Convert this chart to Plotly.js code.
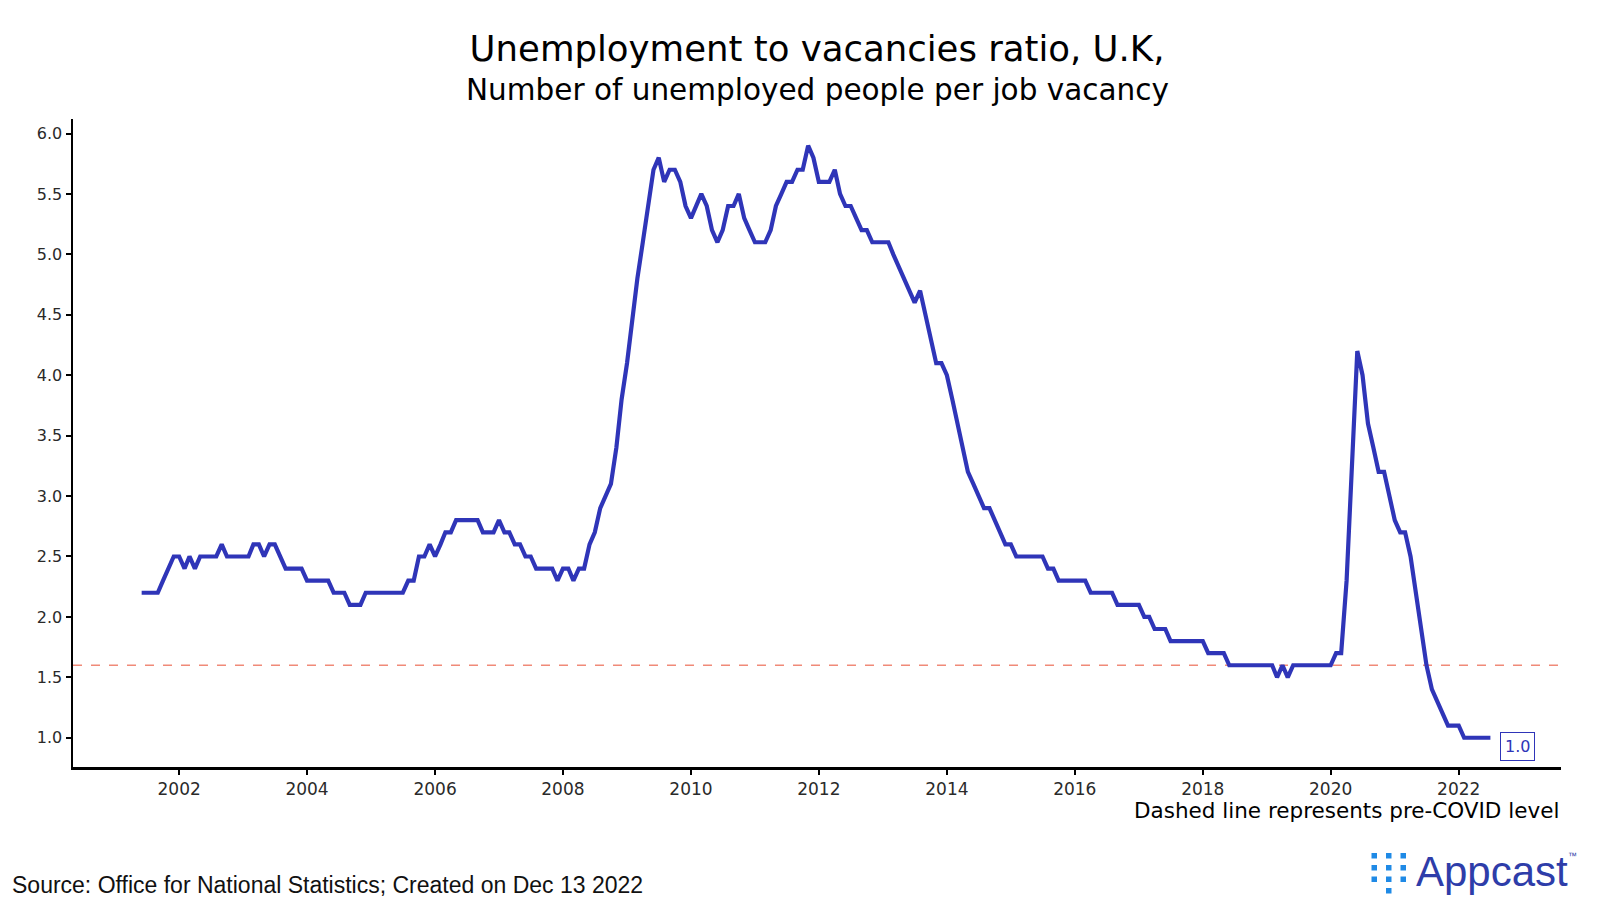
<!DOCTYPE html>
<html>
<head>
<meta charset="utf-8">
<script src="https://cdn.plot.ly/plotly-3.0.1.min.js"></script>
<style>
  html, body { margin: 0; padding: 0; background: #fff; }
  #graph { width: 1600px; height: 909px; }
</style>
</head>
<body>
<div id="graph"></div>
<script>
// monthly ratio, Jun 2001 .. Jul 2022
const startYear = 2001
const startMonth = 6
const ratio = [
  2.2, 2.2, 2.2, 2.2, 2.3, 2.4, 2.5,                          // 2001 Jun-Dec
  2.5, 2.4, 2.5, 2.4, 2.5, 2.5, 2.5, 2.5, 2.6, 2.5, 2.5, 2.5, // 2002
  2.5, 2.5, 2.6, 2.6, 2.5, 2.6, 2.6, 2.5, 2.4, 2.4, 2.4, 2.4, // 2003
  2.3, 2.3, 2.3, 2.3, 2.3, 2.2, 2.2, 2.2, 2.1, 2.1, 2.1, 2.2, // 2004
  2.2, 2.2, 2.2, 2.2, 2.2, 2.2, 2.2, 2.3, 2.3, 2.5, 2.5, 2.6, // 2005
  2.5, 2.6, 2.7, 2.7, 2.8, 2.8, 2.8, 2.8, 2.8, 2.7, 2.7, 2.7, // 2006
  2.8, 2.7, 2.7, 2.6, 2.6, 2.5, 2.5, 2.4, 2.4, 2.4, 2.4, 2.3, // 2007
  2.4, 2.4, 2.3, 2.4, 2.4, 2.6, 2.7, 2.9, 3.0, 3.1, 3.4, 3.8, // 2008
  4.1, 4.5, 4.8, 5.1, 5.4, 5.7, 5.8, 5.6, 5.7, 5.7, 5.6, 5.4, // 2009
  5.3, 5.4, 5.5, 5.4, 5.2, 5.1, 5.2, 5.4, 5.4, 5.5, 5.3, 5.2, // 2010
  5.1, 5.1, 5.1, 5.2, 5.4, 5.5, 5.6, 5.6, 5.7, 5.7, 5.9, 5.8, // 2011
  5.6, 5.6, 5.6, 5.7, 5.5, 5.4, 5.4, 5.3, 5.2, 5.2, 5.1, 5.1, // 2012
  5.1, 5.1, 5.0, 4.9, 4.8, 4.7, 4.6, 4.7, 4.5, 4.3, 4.1, 4.1, // 2013
  4.0, 3.8, 3.6, 3.4, 3.2, 3.1, 3.0, 2.9, 2.9, 2.8, 2.7, 2.6, // 2014
  2.6, 2.5, 2.5, 2.5, 2.5, 2.5, 2.5, 2.4, 2.4, 2.3, 2.3, 2.3, // 2015
  2.3, 2.3, 2.3, 2.2, 2.2, 2.2, 2.2, 2.2, 2.1, 2.1, 2.1, 2.1, // 2016
  2.1, 2.0, 2.0, 1.9, 1.9, 1.9, 1.8, 1.8, 1.8, 1.8, 1.8, 1.8, // 2017
  1.8, 1.7, 1.7, 1.7, 1.7, 1.6, 1.6, 1.6, 1.6, 1.6, 1.6, 1.6, // 2018
  1.6, 1.6, 1.5, 1.6, 1.5, 1.6, 1.6, 1.6, 1.6, 1.6, 1.6, 1.6, // 2019
  1.6, 1.7, 1.7, 2.3, 3.2, 4.2, 4.0, 3.6, 3.4, 3.2, 3.2, 3.0, // 2020
  2.8, 2.7, 2.7, 2.5, 2.2, 1.9, 1.6, 1.4, 1.3, 1.2, 1.1, 1.1, // 2021
  1.1, 1.0, 1.0, 1.0, 1.0, 1.0, 1.0                           // 2022 Jan-Jul
]
const preCovidLevel = 1.6
const yTicks = [1.0, 1.5, 2.0, 2.5, 3.0, 3.5, 4.0, 4.5, 5.0, 5.5, 6.0]

const months = ratio.map((_, i) => {
  const m = startMonth - 1 + i
  const y = startYear + Math.floor(m / 12)
  const mm = String((m % 12) + 1).padStart(2, '0')
  return y + '-' + mm + '-01'
})

const W = 1600, H = 909
const margin = { l: 73, r: 39, t: 119, b: 142 }
const plotW = W - margin.l - margin.r
const plotH = H - margin.t - margin.b
function px(x) { return (x - margin.l) / plotW }
function py(y) { return (H - margin.b - y) / plotH }

const lineBlue = '#2f35b8'

// Appcast mark: little squares, 3 columns
const logoCols = [1371.5, 1386, 1400.5]
const logoRows = [[853, 865, 876.5], [853, 865, 876.5, 888], [853, 865, 876.5]]
const logoShapes = []
logoCols.forEach((cx, c) => {
  logoRows[c].forEach(ry => {
    logoShapes.push({
      type: 'rect', xref: 'paper', yref: 'paper',
      x0: px(cx), x1: px(cx + 5.5), y0: py(ry + 5.5), y1: py(ry),
      fillcolor: '#1f8ae6', line: { width: 0 }
    })
  })
})

const last = ratio.length - 1

Plotly.newPlot(
  'graph',
  [
    {
      x: months,
      y: ratio,
      type: 'scatter',
      mode: 'lines',
      line: { color: lineBlue, width: 4.2 },
      hoverinfo: 'skip'
    }
  ],
  {
    width: W,
    height: H,
    margin: margin,
    paper_bgcolor: '#fff',
    plot_bgcolor: '#fff',
    showlegend: false,
    title: {
      text: 'Unemployment to vacancies ratio, U.K,',
      font: { family: 'DejaVu Sans', size: 35.5, color: '#000' },
      x: 0.5,
      xref: 'paper',
      y: 1 - 49 / H,
      yanchor: 'middle'
    },
    xaxis: {
      type: 'date',
      range: ['2000-05-05', '2023-08-08'],
      tick0: '2002-01-01',
      dtick: 'M24',
      tickformat: '%Y',
      showgrid: false,
      zeroline: false,
      showline: true,
      linecolor: '#000',
      linewidth: 2.5,
      ticks: 'outside',
      ticklen: 5,
      tickwidth: 2,
      tickcolor: '#000',
      tickfont: { family: 'DejaVu Sans', size: 17, color: '#2a2a2a' }
    },
    yaxis: {
      range: [0.758, 6.12],
      tickvals: yTicks,
      tickformat: '.1f',
      showgrid: false,
      zeroline: false,
      showline: true,
      linecolor: '#000',
      linewidth: 2.5,
      ticks: 'outside',
      ticklen: 5,
      tickwidth: 2,
      tickcolor: '#000',
      tickfont: { family: 'DejaVu Sans', size: 16, color: '#2a2a2a' }
    },
    shapes: [
      {
        type: 'line', xref: 'paper', yref: 'y',
        x0: 0, x1: 1, y0: preCovidLevel, y1: preCovidLevel,
        line: { color: '#f08a78', width: 1.7, dash: 'dash' },
        layer: 'below'
      }
    ].concat(logoShapes),
    annotations: [
      {
        text: 'Number of unemployed people per job vacancy',
        xref: 'paper', yref: 'paper', x: 0.5, y: py(90),
        xanchor: 'center', yanchor: 'middle', showarrow: false,
        font: { family: 'DejaVu Sans', size: 29.5, color: '#000' }
      },
      {
        text: ratio[last].toFixed(1),
        x: months[last], y: ratio[last],
        xanchor: 'left', yanchor: 'middle', xshift: 10, yshift: -9,
        showarrow: false,
        font: { family: 'DejaVu Sans', size: 16, color: lineBlue },
        bgcolor: '#fff', bordercolor: lineBlue, borderwidth: 1, borderpad: 4
      },
      {
        text: 'Dashed line represents pre-COVID level',
        xref: 'paper', yref: 'paper', x: 1, y: py(810),
        xanchor: 'right', yanchor: 'middle', showarrow: false,
        font: { family: 'DejaVu Sans', size: 21.5, color: '#000' }
      },
      {
        text: 'Source: Office for National Statistics; Created on Dec 13 2022',
        xref: 'paper', yref: 'paper', x: px(10), y: py(885),
        xanchor: 'left', yanchor: 'middle', showarrow: false,
        font: { family: 'Liberation Sans', size: 23, color: '#111' }
      },
      {
        text: 'Appcast',
        xref: 'paper', yref: 'paper', x: px(1414), y: py(871),
        xanchor: 'left', yanchor: 'middle', showarrow: false,
        font: { family: 'Liberation Sans', size: 42, color: '#2e3da9' }
      },
      {
        text: '™',
        xref: 'paper', yref: 'paper', x: px(1566), y: py(856),
        xanchor: 'left', yanchor: 'middle', showarrow: false,
        font: { family: 'Liberation Sans', size: 9, color: '#2e3da9' }
      }
    ]
  },
  { staticPlot: true, displayModeBar: false }
)
</script>
</body>
</html>
